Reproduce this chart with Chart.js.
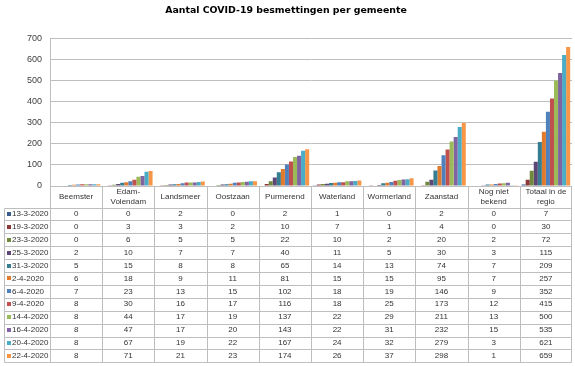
<!DOCTYPE html>
<html><head><meta charset="utf-8">
<script src="https://cdn.jsdelivr.net/npm/chart.js@4"></script>
<style>html,body{margin:0;padding:0;background:#fff}canvas{display:block}</style>
</head><body>
<canvas id="c" width="575" height="366"></canvas>
<script>
const titleText = 'Aantal COVID-19 besmettingen per gemeente';
const categories = [["Beemster"],["Edam-","Volendam"],["Landsmeer"],["Oostzaan"],["Purmerend"],["Waterland"],["Wormerland"],["Zaanstad"],["Nog niet","bekend"],["Totaal in de","regio"]];
const dates = ['13-3-2020','19-3-2020','23-3-2020','25-3-2020','31-3-2020','2-4-2020','6-4-2020','9-4-2020','14-4-2020','16-4-2020','20-4-2020','22-4-2020'];
const v13_3 = [0,0,2,0,2,1,0,2,0,7];
const v19_3 = [0,3,3,2,10,7,1,4,0,30];
const v23_3 = [0,6,5,5,22,10,2,20,2,72];
const v25_3 = [2,10,7,7,40,11,5,30,3,115];
const v31_3 = [5,15,8,8,65,14,13,74,7,209];
const v02_4 = [6,18,9,11,81,15,15,95,7,257];
const v06_4 = [7,23,13,15,102,18,19,146,9,352];
const v09_4 = [8,30,16,17,116,18,25,173,12,415];
const v14_4 = [8,44,17,19,137,22,29,211,13,500];
const v16_4 = [8,47,17,20,143,22,31,232,15,535];
const v20_4 = [8,67,19,22,167,24,32,279,3,621];
const v22_4 = [8,71,21,23,174,26,37,298,1,659];
const seriesValues = [v13_3,v19_3,v23_3,v25_3,v31_3,v02_4,v06_4,v09_4,v14_4,v16_4,v20_4,v22_4];
const yMin = 0, yMax = 700, yStep = 100;

const palette = ['#385D8A','#8C3836','#71893F','#5C4776','#357D91','#E07B2D',
                 '#4F81BD','#C0504D','#9BBB59','#8064A2','#4BACC6','#F79646'];
const lineColor = '#BEBEBE';
const textColor = '#333333';
const tableFont = '8px "Liberation Sans", Arial, sans-serif';

const tablePlugin = {
  id: 'dataTable',
  afterDraw(chart) {
    const ctx = chart.ctx, xs = chart.scales.x, ys = chart.scales.y;
    const n = categories.length;
    const colW = xs.width / n;
    const top = Math.round(ys.getPixelForValue(0)) + 0.5;
    const headH = 21, rowH = 12.9;
    const hb = top + headH;
    const bottom = hb + rowH * dates.length;
    const legL = 4.5;
    const left = Math.round(xs.left) + 0.5, right = Math.round(xs.right) - 0.5;
    const px = v => Math.round(v) + 0.5;
    ctx.save();
    ctx.strokeStyle = lineColor; ctx.lineWidth = 1;
    ctx.beginPath();
    ctx.moveTo(left, top); ctx.lineTo(right, top);
    for (let i = 0; i <= n; i++) {
      const x = i === n ? right : px(xs.getPixelForValue(i) - colW / 2);
      ctx.moveTo(x, top); ctx.lineTo(x, px(bottom));
    }
    ctx.moveTo(legL, px(hb)); ctx.lineTo(legL, px(bottom));
    for (let r = 0; r <= dates.length; r++) {
      const y = px(hb + r * rowH);
      ctx.moveTo(legL, y); ctx.lineTo(right, y);
    }
    ctx.stroke();

    ctx.fillStyle = textColor;
    ctx.font = tableFont;
    ctx.textAlign = 'center'; ctx.textBaseline = 'middle';
    const hc = top + headH / 2;
    categories.forEach((lab, i) => {
      const cx = xs.getPixelForValue(i);
      if (lab.length === 1) ctx.fillText(lab[0], cx, hc);
      else { ctx.fillText(lab[0], cx, hc - 5); ctx.fillText(lab[1], cx, hc + 5); }
    });
    dates.forEach((d, r) => {
      const cy = hb + r * rowH + rowH / 2;
      ctx.fillStyle = palette[r];
      ctx.fillRect(7, Math.round(cy - 2), 4, 4);
      ctx.fillStyle = textColor;
      ctx.textAlign = 'left';
      ctx.fillText(d, 12, cy);
      ctx.textAlign = 'center';
      seriesValues[r].forEach((v, i) => ctx.fillText(String(v), xs.getPixelForValue(i), cy));
    });
    ctx.restore();
  }
};

new Chart(document.getElementById('c'), {
  type: 'bar',
  data: {
    labels: categories.map(c => c.join(' ')),
    datasets: dates.map((d, i) => ({ label: d, data: seriesValues[i], backgroundColor: palette[i], borderWidth: 0 }))
  },
  options: {
    responsive: false, animation: false,
    layout: { padding: { left: 0, right: 3, top: 0, bottom: 180 } },
    datasets: { bar: { categoryPercentage: 0.93, barPercentage: 1 } },
    plugins: {
      legend: { display: false }, tooltip: { enabled: false },
      title: { display: true, text: titleText, color: '#000',
        font: { family: '"DejaVu Sans", sans-serif', size: 9.4, weight: 'bold' },
        padding: { top: 5, bottom: 22 } }
    },
    scales: {
      x: { display: false },
      y: { min: yMin, max: yMax,
        ticks: { stepSize: yStep, color: '#404040', padding: 8, font: { family: '"Liberation Sans", Arial, sans-serif', size: 9 } },
        grid: { color: lineColor, drawTicks: false },
        border: { display: true, color: lineColor },
        afterFit(s) { s.width = 50; } }
    }
  },
  plugins: [tablePlugin]
});
</script>
</body></html>
